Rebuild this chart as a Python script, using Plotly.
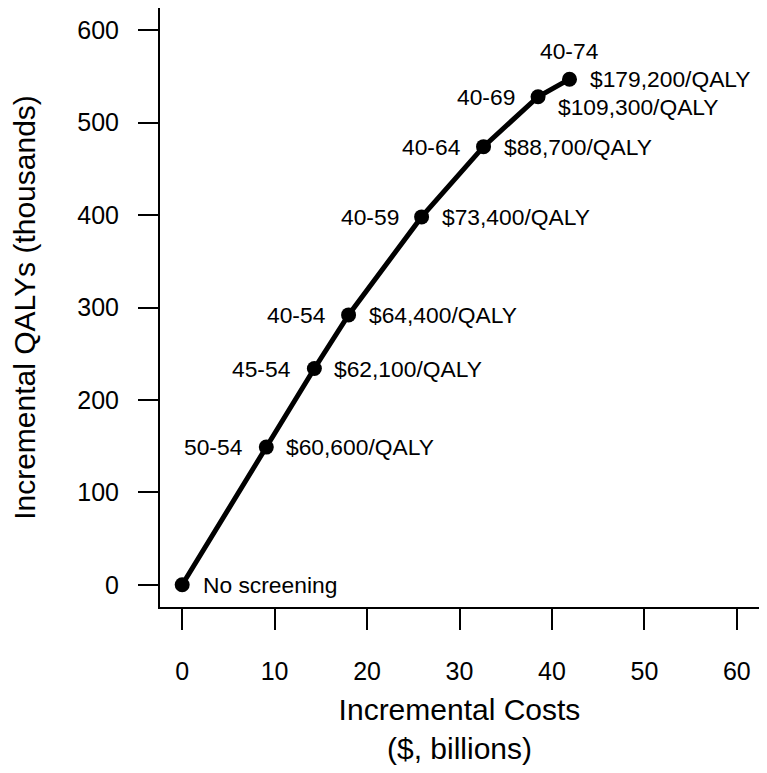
import plotly.graph_objects as go

# Data
costs = [0, 9.1, 14.3, 18.0, 25.9, 32.6, 38.5, 41.9]          # $ billions
qalys = [0, 149, 234, 292, 398, 474, 528, 547]                # thousands
strategies = ["No screening", "50-54", "45-54", "40-54", "40-59", "40-64", "40-69", "40-74"]
icers = ["", "$60,600/QALY", "$62,100/QALY", "$64,400/QALY", "$73,400/QALY",
         "$88,700/QALY", "$109,300/QALY", "$179,200/QALY"]

x_ticks = [0, 10, 20, 30, 40, 50, 60]
y_ticks = [0, 100, 200, 300, 400, 500, 600]

FONT = "Liberation Sans, Arial, Helvetica, sans-serif"

fig = go.Figure()
fig.add_trace(go.Scatter(
    x=costs, y=qalys, mode="lines+markers",
    line=dict(color="black", width=5),
    marker=dict(color="black", size=15),
    showlegend=False, hoverinfo="skip",
))

ann = []
for i, (cx, qy, s, c) in enumerate(zip(costs, qalys, strategies, icers)):
    if s == "No screening":
        ann.append(dict(x=cx, y=qy, text=s, xanchor="left", yanchor="middle", xshift=19))
        continue
    if s == "40-74":
        ann.append(dict(x=cx, y=qy, text=s, xanchor="center", yanchor="middle", yshift=28))
    else:
        ann.append(dict(x=cx, y=qy, text=s, xanchor="right", yanchor="middle", xshift=-21))
    ys = -10 if s == "40-69" else 0
    ann.append(dict(x=cx, y=qy, text=c, xanchor="left", yanchor="middle", xshift=18, yshift=ys))

for a in ann:
    a.update(showarrow=False, font=dict(family=FONT, size=22.8, color="black"),
             xref="x", yref="y")

fig.update_layout(
    width=759, height=757,
    margin=dict(l=152, r=8, t=0, b=158, autoexpand=False),
    paper_bgcolor="white", plot_bgcolor="white",
    font=dict(family=FONT, color="black"),
    annotations=ann,
    xaxis=dict(
        range=[-2.4, 62.4], tickvals=x_ticks, ticktext=[str(v) for v in x_ticks],
        ticks="outside", ticklen=21, tickwidth=2, tickcolor="black",
        showline=True, linewidth=2, linecolor="black", mirror=True,
        showgrid=False, zeroline=False, automargin=False,
        tickfont=dict(size=25, family=FONT, color="black"),
        ticklabelstandoff=20,
        title=dict(text="Incremental Costs<br>($, billions)",
                   font=dict(size=30, family=FONT, color="black"), standoff=23),
    ),
    yaxis=dict(
        range=[-24, 624], tickvals=y_ticks, ticktext=[str(v) for v in y_ticks],
        ticks="outside", ticklen=20, tickwidth=2, tickcolor="black",
        showline=True, linewidth=2, linecolor="black", mirror=True,
        showgrid=False, zeroline=False, automargin=False,
        tickfont=dict(size=25, family=FONT, color="black"),
        ticklabelstandoff=14,
        title=dict(text="Incremental QALYs (thousands)",
                   font=dict(size=30, family=FONT, color="black"), standoff=34),
    ),
)

fig.write_html("out.html")
